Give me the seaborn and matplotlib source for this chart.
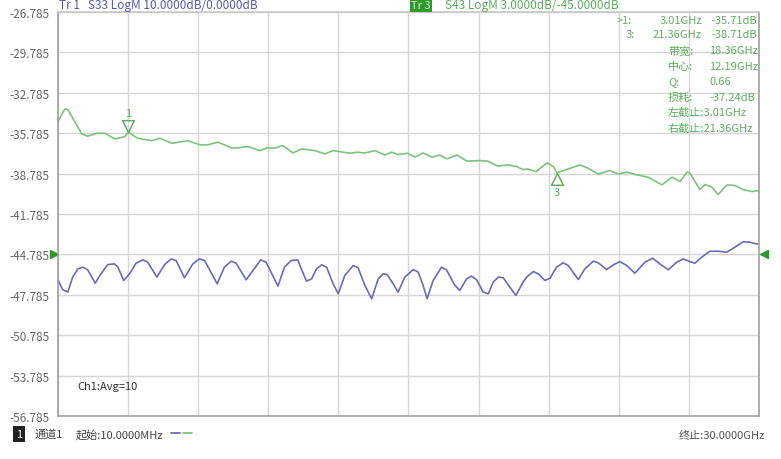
import numpy as np
import pandas as pd
import matplotlib
matplotlib.use("Agg")
import matplotlib.pyplot as plt
import matplotlib.transforms as mtransforms
from matplotlib.path import Path
from matplotlib.lines import Line2D
import seaborn as sns

# ---------------- data ----------------
freq_s43 = [0.01, 0.30, 0.43, 1.03, 1.28, 1.67, 2.01, 2.44, 2.87, 3.01, 3.42, 4.02, 4.37,
            4.88, 5.56, 6.08, 6.42, 6.85, 7.45, 7.70, 8.09, 8.22, 8.65, 8.94, 9.29, 9.63,
            10.06, 10.44, 11.00, 11.43, 11.77, 12.50, 12.80, 13.14, 13.57, 13.99, 14.29,
            14.55, 14.98, 15.28, 15.62, 16.01, 16.35, 16.65, 17.08, 17.50, 18.06, 18.40,
            18.83, 19.26, 19.64, 19.90, 20.11, 20.46, 20.93, 21.18, 21.36, 21.65, 22.34,
            22.68, 23.11, 23.62, 23.97, 24.35, 24.78, 25.25, 25.85, 26.28, 26.62, 26.92,
            27.05, 27.47, 27.69, 27.99, 28.25, 28.63, 28.97, 29.32, 29.70, 30.00]
s43_db = [-34.92, -33.98, -34.03, -35.84, -36.01, -35.79, -35.79, -36.21, -36.04, -35.71,
          -36.16, -36.34, -36.16, -36.53, -36.34, -36.65, -36.65, -36.45, -36.88, -36.88,
          -36.78, -36.82, -37.08, -36.88, -36.88, -36.71, -37.25, -36.95, -37.08, -37.32,
          -37.08, -37.27, -37.20, -37.25, -37.08, -37.40, -37.20, -37.37, -37.27, -37.57,
          -37.25, -37.57, -37.40, -37.69, -37.40, -37.86, -37.82, -37.86, -38.23, -38.14,
          -38.26, -38.49, -38.44, -38.64, -37.99, -38.23, -38.71, -38.55, -38.14, -38.38,
          -38.81, -38.56, -38.81, -38.68, -38.88, -39.05, -39.62, -39.05, -39.38, -38.68,
          -38.75, -39.97, -39.60, -39.79, -40.34, -39.62, -39.67, -39.97, -40.12, -40.04]

freq_s33 = [0.01, 0.21, 0.43, 0.64, 0.86, 1.07, 1.28, 1.60, 1.85, 2.14, 2.43, 2.57, 2.82,
            3.07, 3.35, 3.64, 3.85, 4.24, 4.57, 4.85, 5.06, 5.42, 5.78, 6.06, 6.28, 6.82,
            7.13, 7.42, 7.63, 8.06, 8.35, 8.68, 8.91, 9.42, 9.70, 9.98, 10.27, 10.36, 10.64,
            10.86, 11.07, 11.29, 11.50, 11.78, 12.00, 12.28, 12.64, 12.85, 13.14, 13.43,
            13.71, 13.92, 14.09, 14.35, 14.56, 14.85, 15.21, 15.42, 15.63, 15.80, 16.06,
            16.42, 16.63, 16.99, 17.20, 17.49, 17.70, 17.92, 18.20, 18.42, 18.63, 18.85,
            19.06, 19.34, 19.60, 19.91, 20.06, 20.34, 20.56, 20.84, 21.06, 21.34, 21.62,
            21.84, 22.27, 22.55, 22.91, 23.12, 23.48, 23.77, 24.05, 24.34, 24.69, 25.12,
            25.45, 25.76, 26.12, 26.48, 26.76, 27.05, 27.26, 27.55, 27.90, 28.26, 28.62,
            28.97, 29.33, 29.61, 29.90, 30.00]
s33_db = [-46.67, -47.41, -47.58, -46.47, -45.86, -45.73, -45.93, -46.92, -46.23, -45.54,
          -45.49, -45.73, -46.72, -46.23, -45.44, -45.19, -45.36, -46.47, -45.54, -45.12,
          -45.24, -46.52, -45.49, -45.12, -45.24, -46.97, -45.73, -45.29, -45.44, -46.67,
          -45.98, -45.19, -45.36, -47.14, -45.73, -45.24, -45.19, -45.61, -46.77, -46.60,
          -45.86, -45.56, -45.73, -46.97, -47.71, -46.35, -45.61, -45.78, -47.09, -48.08,
          -46.60, -46.23, -46.28, -46.97, -47.58, -46.47, -45.91, -46.10, -47.09, -48.08,
          -46.72, -45.73, -45.93, -47.09, -47.46, -46.60, -46.40, -46.67, -47.58, -47.71,
          -46.84, -46.47, -46.52, -47.21, -47.83, -46.84, -46.47, -46.06, -46.23, -46.72,
          -46.55, -45.73, -45.41, -45.61, -46.65, -45.86, -45.29, -45.41, -45.91, -45.56,
          -45.32, -45.61, -46.18, -45.36, -45.07, -45.49, -45.93, -45.36, -45.12, -45.32,
          -45.44, -44.99, -44.55, -44.55, -44.62, -44.25, -43.84, -43.88, -44.01, -44.01]

ytick_labels = ["-26.785", "-29.785", "-32.785", "-35.785", "-38.785", "-41.785",
                "-44.785", "-47.785", "-50.785", "-53.785", "-56.785"]
marker_freq = [3.01, 21.36]
marker_db = [-35.71, -38.71]
marker_names = ["1", "3"]
ref_level = -44.785
x_start, x_stop = 0.01, 30.0

# ---------------- style ----------------
sns.set_theme(style="white")
plt.rcParams["font.family"] = ["Noto Sans CJK SC", "DejaVu Sans"]

GREEN = "#7cc47c"
GREEN_TXT = "#5fae5f"
BLUE = "#6b6bb8"
DARK_GREEN = "#2e9a2e"

W, H = 781, 460
fig = plt.figure(figsize=(W / 100, H / 100), dpi=100)
fig.patch.set_facecolor("white")
ax = fig.add_axes([58 / W, 1 - 417 / H, 701 / W, 404 / H])


def ftext(x, y, s, **kw):
    kw.setdefault("va", "center")
    fig.text(x / W, 1 - y / H, s, **kw)


df = pd.concat([
    pd.DataFrame({"freq": freq_s33, "db": s33_db, "trace": "S33"}),
    pd.DataFrame({"freq": freq_s43, "db": s43_db, "trace": "S43"}),
])
sns.lineplot(data=df, x="freq", y="db", hue="trace", palette={"S33": BLUE, "S43": GREEN},
             ax=ax, legend=False, linewidth=1.2, estimator=None, sort=False)

ax.set_xlim(x_start, x_stop)
ax.set_ylim(-56.785, -26.785)
ytick_vals = [float(s) for s in ytick_labels]
ax.set_yticks(ytick_vals)
ax.set_yticklabels(ytick_labels, color="#666666", fontsize=8.5)
ax.set_xticks(np.linspace(x_start, x_stop, 11))
ax.set_xticklabels([])
ax.tick_params(axis="both", length=0, pad=6)
ax.set_xlabel("")
ax.set_ylabel("")
ax.grid(True, color="#d6d6d6", linewidth=1)
for side, sp in ax.spines.items():
    sp.set_color("#a0a0a0")
    sp.set_linewidth(1.2)
ax.spines["top"].set_color("#c8c8c8")

# marker triangles
down_tri = Path([(0, 0), (-0.5, 1), (0.5, 1), (0, 0)],
                [Path.MOVETO, Path.LINETO, Path.LINETO, Path.CLOSEPOLY])
up_tri = Path([(0, 0), (-0.5, -1), (0.5, -1), (0, 0)],
              [Path.MOVETO, Path.LINETO, Path.LINETO, Path.CLOSEPOLY])
for f, d, name in zip(marker_freq, marker_db, marker_names):
    if name == "1":
        ax.plot([f], [d], marker=down_tri, ms=17, mfc="none", mec=GREEN_TXT, mew=1.1, ls="none")
        ax.annotate(name, (f, d), xytext=(0, 19), textcoords="offset pixels",
                    ha="center", va="center", color=GREEN_TXT, fontsize=8)
    else:
        ax.plot([f], [d], marker=up_tri, ms=17, mfc="none", mec=GREEN_TXT, mew=1.1, ls="none")
        ax.annotate(name, (f, d), xytext=(0, -19), textcoords="offset pixels",
                    ha="center", va="center", color=GREEN_TXT, fontsize=8)

# reference level arrows
blend = mtransforms.blended_transform_factory(ax.transAxes, ax.transData)
ax.plot([-0.005], [ref_level], marker=">", color=DARK_GREEN, ms=6, transform=blend, clip_on=False)
ax.plot([1.007], [ref_level], marker="<", color=DARK_GREEN, ms=6, transform=blend, clip_on=False)

ax.text((77 - 58) / 701, 1 - (387 - 13) / 404, "Ch1:Avg=10", transform=ax.transAxes,
        fontsize=8, color="#333333", va="center")

# header
ftext(59, 6, "Tr 1   S33 LogM 10.0000dB/0.0000dB", color="#5a5ab0", fontsize=8.5)
ftext(421, 6, "Tr 3", color="#d8f0d8", fontsize=8, ha="center",
      bbox=dict(facecolor="#2e9a2e", edgecolor="none", boxstyle="square,pad=0.15"))
ftext(445, 6, "S43 LogM 3.0000dB/-45.0000dB", color=GREEN_TXT, fontsize=8.5)

# marker readout
fs = 8
ftext(617, 20.5, ">1:", color=GREEN_TXT, fontsize=fs)
ftext(702, 20.5, "3.01GHz", color=GREEN_TXT, fontsize=fs, ha="right")
ftext(757, 20.5, "-35.71dB", color=GREEN_TXT, fontsize=fs, ha="right")
ftext(626, 35.5, "3:", color=GREEN_TXT, fontsize=fs)
ftext(702, 35.5, "21.36GHz", color=GREEN_TXT, fontsize=fs, ha="right")
ftext(757, 35.5, "-38.71dB", color=GREEN_TXT, fontsize=fs, ha="right")
rows = [("带宽:", "18.36GHz"), ("中心:", "12.19GHz"), ("Q:", "0.66"), ("损耗:", "-37.24dB")]
for i, (k, v) in enumerate(rows):
    yy = 51.5 + i * 15.4
    ftext(668, yy, k, color=GREEN_TXT, fontsize=fs)
    ftext(709, yy, v, color=GREEN_TXT, fontsize=fs)
ftext(668, 113, "左截止:3.01GHz", color=GREEN_TXT, fontsize=fs)
ftext(668, 128.5, "右截止:21.36GHz", color=GREEN_TXT, fontsize=fs)

# footer
ftext(19, 435, "1", color="white", fontsize=8, ha="center",
      bbox=dict(facecolor="#222222", edgecolor="none", boxstyle="square,pad=0.3"))
ftext(35, 435, "通道1", color="#444444", fontsize=8)
ftext(76, 435, "起始:10.0000MHz", color="#444444", fontsize=8)
fig.add_artist(Line2D([171 / W, 180 / W], [1 - 434 / H] * 2, color=BLUE, lw=1.3))
fig.add_artist(Line2D([183 / W, 192 / W], [1 - 434 / H] * 2, color=GREEN, lw=1.3))
ftext(765, 436, "终止:30.0000GHz", color="#555555", fontsize=8, ha="right")

fig.savefig("out.png", dpi=100, facecolor="white")
